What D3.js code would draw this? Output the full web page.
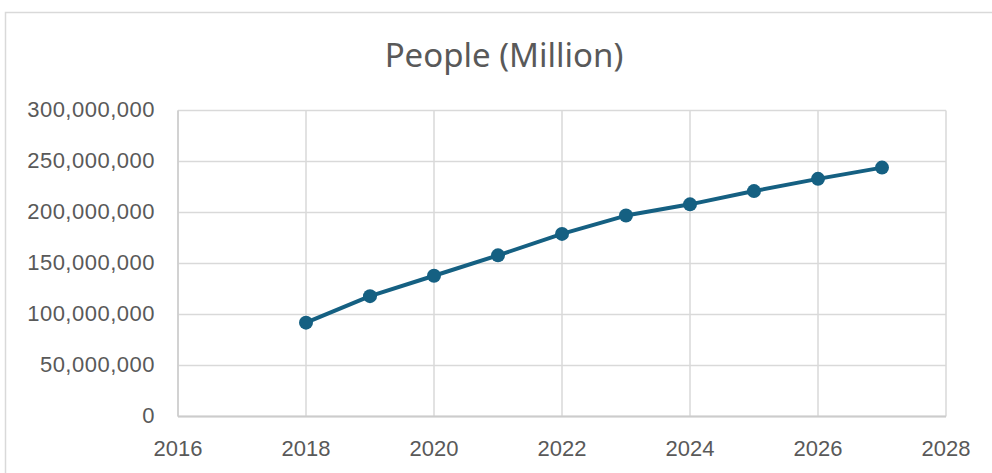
<!DOCTYPE html>
<html>
<head>
<meta charset="utf-8">
<script src="https://cdn.jsdelivr.net/npm/d3@7"></script>
<style>
  body { margin: 0; background: #fff; }
  svg { display: block; }
</style>
</head>
<body>
<svg id="chart"></svg>
<script>
// data
const years = [2018, 2019, 2020, 2021, 2022, 2023, 2024, 2025, 2026, 2027];
const people = [92000000, 118000000, 138000000, 158000000, 179000000, 197000000, 208000000, 221000000, 233000000, 244000000];
const xTicks = [2016, 2018, 2020, 2022, 2024, 2026, 2028];
const yTicks = [0, 50000000, 100000000, 150000000, 200000000, 250000000, 300000000];

const width = 992, height = 473;
const margin = {top: 110.5, right: 46, bottom: 56.5, left: 178};

const svg = d3.select("#chart").attr("width", width).attr("height", height);

// chart frame
svg.append("rect")
    .attr("x", 5.5).attr("y", 12.5)
    .attr("width", width + 10).attr("height", height + 10)
    .attr("fill", "#fff").attr("stroke", "#d9d9d9").attr("stroke-width", 1.5);

const x = d3.scaleLinear().domain([2016, 2028]).range([margin.left, width - margin.right]);
const y = d3.scaleLinear().domain([0, 300000000]).range([height - margin.bottom, margin.top]);

// grid
svg.append("g")
    .attr("stroke", "#d9d9d9")
    .attr("stroke-width", 1.5)
  .selectAll("line.h")
  .data(yTicks)
  .join("line")
    .attr("x1", x(2016)).attr("x2", x(2028))
    .attr("y1", d => y(d)).attr("y2", d => y(d));

svg.append("g")
    .attr("stroke", "#d9d9d9")
    .attr("stroke-width", 1.5)
  .selectAll("line.v")
  .data(xTicks)
  .join("line")
    .attr("x1", d => x(d)).attr("x2", d => x(d))
    .attr("y1", y(0)).attr("y2", y(300000000));

// axis lines a little darker
svg.append("line")
    .attr("x1", x(2016)).attr("x2", x(2028))
    .attr("y1", y(0)).attr("y2", y(0))
    .attr("stroke", "#cccccc").attr("stroke-width", 2);
svg.append("line")
    .attr("x1", x(2016)).attr("x2", x(2016))
    .attr("y1", y(0)).attr("y2", y(300000000))
    .attr("stroke", "#cccccc").attr("stroke-width", 1.5);

// tick labels
const fmt = d3.format(",");
svg.append("g")
    .attr("font-family", "Liberation Sans, Arial, sans-serif")
    .attr("font-size", 22)
    .attr("fill", "#595959")
    .attr("text-anchor", "end")
  .selectAll("text")
  .data(yTicks)
  .join("text")
    .attr("x", 155)
    .attr("y", d => y(d) - 1)
    .attr("dy", "0.35em")
    .attr("letter-spacing", 0.5)
    .text(d => fmt(d));

svg.append("g")
    .attr("font-family", "Liberation Sans, Arial, sans-serif")
    .attr("font-size", 22)
    .attr("fill", "#595959")
    .attr("text-anchor", "middle")
  .selectAll("text")
  .data(xTicks)
  .join("text")
    .attr("x", d => x(d))
    .attr("y", 456)
    .text(d => d);

// title
svg.append("text")
    .attr("x", 504)
    .attr("y", 67)
    .attr("text-anchor", "middle")
    .attr("font-family", "Noto Sans, Open Sans, sans-serif")
    .attr("font-size", 33)
    .attr("fill", "#595959")
    .text("People (Million)");

// series
const pts = years.map((yr, i) => [yr, people[i]]);
svg.append("path")
    .datum(pts)
    .attr("fill", "none")
    .attr("stroke", "#156082")
    .attr("stroke-width", 4)
    .attr("stroke-linejoin", "round")
    .attr("d", d3.line().x(d => x(d[0])).y(d => y(d[1])));

svg.append("g")
    .attr("fill", "#156082")
  .selectAll("circle")
  .data(pts)
  .join("circle")
    .attr("cx", d => x(d[0]))
    .attr("cy", d => y(d[1]))
    .attr("r", 7);
</script>
</body>
</html>
